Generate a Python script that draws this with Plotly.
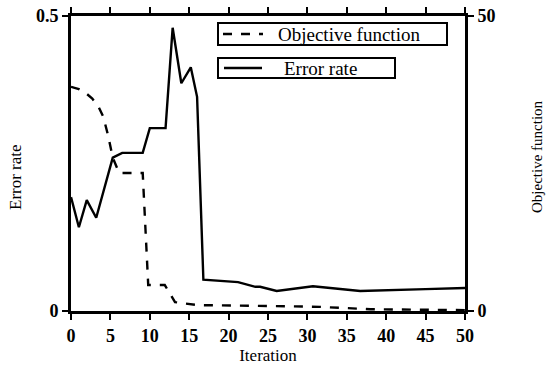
import plotly.graph_objects as go

# Error rate (solid, left axis)
err_x = [0, 1, 2, 3.2, 5.3, 6.5, 9.1, 10, 12, 12.9, 14, 15.2, 16, 16.8, 21.2, 23.4, 24, 26.1, 30.7, 36.7, 45, 50]
err_y = [0.193, 0.142, 0.188, 0.158, 0.26, 0.268, 0.268, 0.31, 0.31, 0.48, 0.386, 0.413, 0.363, 0.053, 0.049, 0.041, 0.041, 0.034, 0.042, 0.034, 0.037, 0.039]

# Objective function (dashed, right axis)
obj_x = [0, 1, 2, 2.7, 3.5, 4.1, 4.7, 5.3, 6.1, 9.1, 9.8, 11.9, 13.2, 16, 25.3, 31.6, 38, 50]
obj_y = [38, 37.6, 36.8, 36, 34.6, 32.9, 29.8, 26, 23.4, 23.4, 4.4, 4.4, 1.5, 1.0, 0.85, 0.7, 0.3, 0.15]

x_ticks = [0, 5, 10, 15, 20, 25, 30, 35, 40, 45, 50]
series_names = ["Objective function", "Error rate"]
axis_titles = ["Iteration", "Error rate", "Objective function"]

FONT = "Liberation Serif"

# plot area in pixels
L, R, T, B = 71, 465, 16, 311
W, H = 551, 366


def px(xp):
    return (xp - L) / (R - L)


def py(yp):
    return (B - yp) / (B - T)


fig = go.Figure()
fig.add_trace(go.Scatter(x=obj_x, y=obj_y, yaxis="y2", mode="lines", name=series_names[0],
                         line=dict(color="black", width=2.4, dash="dash"), showlegend=False))
fig.add_trace(go.Scatter(x=err_x, y=err_y, mode="lines", name=series_names[1],
                         line=dict(color="black", width=2.4), showlegend=False))

# legend boxes (two separate framed keys, as in the original)
shapes = [
    dict(type="rect", xref="paper", yref="paper", x0=px(218), x1=px(447), y0=py(45), y1=py(23),
         line=dict(color="black", width=2), fillcolor="white", layer="above"),
    dict(type="line", xref="paper", yref="paper", x0=px(223), x1=px(263), y0=py(34), y1=py(34),
         line=dict(color="black", width=2.4, dash="dash"), layer="above"),
    dict(type="rect", xref="paper", yref="paper", x0=px(218), x1=px(395), y0=py(78), y1=py(58),
         line=dict(color="black", width=2), fillcolor="white", layer="above"),
    dict(type="line", xref="paper", yref="paper", x0=px(224), x1=px(262), y0=py(68), y1=py(68),
         line=dict(color="black", width=2.4), layer="above"),
]
annotations = [
    dict(xref="paper", yref="paper", x=px(276), y=py(34), text=series_names[0], showarrow=False,
         xanchor="left", yanchor="middle", font=dict(family=FONT, size=19, color="black")),
    dict(xref="paper", yref="paper", x=px(320), y=py(68), text=series_names[1], showarrow=False,
         xanchor="center", yanchor="middle", font=dict(family=FONT, size=19, color="black")),
    # y-axis titles
    dict(xref="paper", yref="paper", x=px(15), y=py(177), text=axis_titles[1], showarrow=False,
         textangle=-90, xanchor="center", yanchor="middle", font=dict(family=FONT, size=17, color="black")),
    dict(xref="paper", yref="paper", x=px(537), y=py(157), text=axis_titles[2], showarrow=False,
         textangle=-90, xanchor="center", yanchor="middle", font=dict(family=FONT, size=15, color="black")),
]

axis_common = dict(showgrid=False, zeroline=False, linecolor="black", linewidth=3, automargin=False,
                   ticks="outside", tickcolor="black", tickwidth=2, ticklen=6,
                   tickfont=dict(family=FONT, size=18, color="black", weight="bold"))

fig.update_layout(
    width=W, height=H,
    margin=dict(l=L, r=W - R, t=T, b=H - B),
    plot_bgcolor="white", paper_bgcolor="white",
    showlegend=False,
    font=dict(family=FONT, size=16, color="black"),
    shapes=shapes, annotations=annotations,
    xaxis=dict(range=[0, 50], tickvals=x_ticks, mirror="ticks",
               title=dict(text=axis_titles[0], font=dict(family=FONT, size=17), standoff=2),
               **axis_common),
    yaxis=dict(range=[0, 0.5], tickvals=[0, 0.5], ticktext=["0", "0.5"], **axis_common),
    yaxis2=dict(range=[0, 50], tickvals=[0, 50], overlaying="y", side="right", **axis_common),
)

fig.write_html("out.html")
